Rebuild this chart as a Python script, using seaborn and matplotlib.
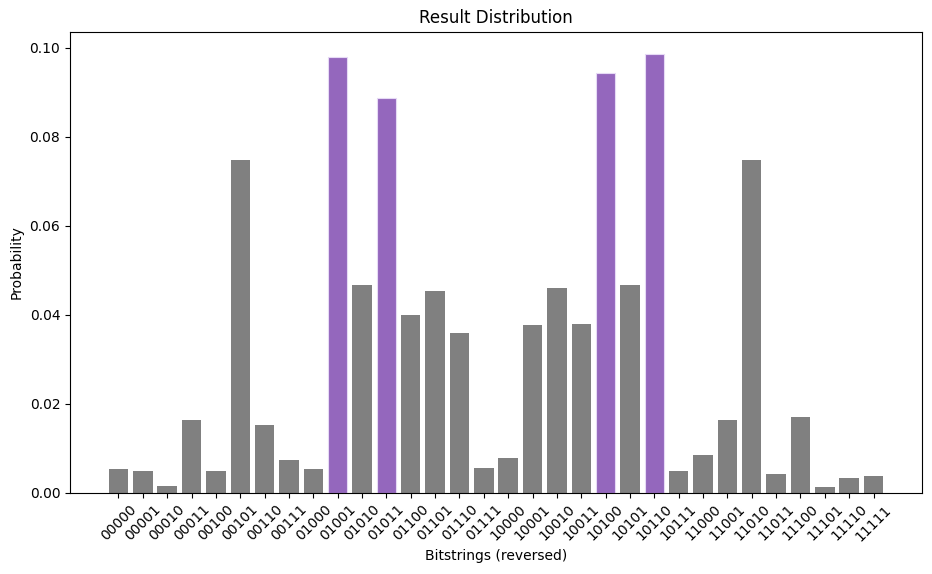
import matplotlib
matplotlib.use("Agg")
import matplotlib.pyplot as plt
import pandas as pd
import seaborn as sns

bitstrings = [format(i, "05b") for i in range(32)]
probabilities = [
    0.0053, 0.0049, 0.0015, 0.0163, 0.0049, 0.0748, 0.0152, 0.0073,
    0.0053, 0.0979, 0.0468, 0.0887, 0.0399, 0.0453, 0.0360, 0.0055,
    0.0078, 0.0377, 0.0460, 0.0379, 0.0943, 0.0468, 0.0987, 0.0049,
    0.0085, 0.0163, 0.0748, 0.0042, 0.0170, 0.0013, 0.0033, 0.0037,
]
highlighted = ["01001", "01011", "10100", "10110"]

df = pd.DataFrame({"bitstring": bitstrings, "probability": probabilities})
df["kind"] = ["solution" if b in highlighted else "other" for b in bitstrings]

plt.rcParams["font.family"] = ["DejaVu Sans"]

fig = plt.figure(figsize=(9.32, 5.74), dpi=100)
ax = fig.add_axes([70 / 932, 1 - 492.7 / 574, 852 / 932, 461 / 574])

sns.barplot(
    data=df, x="bitstring", y="probability", hue="kind", order=bitstrings,
    palette={"other": "#808080", "solution": "#9467bd"},
    dodge=False, saturation=1, width=0.8, legend=False, ax=ax,
)
# light outline on the highlighted bars, matched by bar position
for patch in ax.patches:
    idx = int(round(patch.get_x() + patch.get_width() / 2))
    if 0 <= idx < len(bitstrings) and bitstrings[idx] in highlighted:
        patch.set_edgecolor("#e6daf5")
        patch.set_linewidth(0.8)
    else:
        patch.set_linewidth(0)

n = len(bitstrings)
pad = 0.05 * (n - 1 + 0.8)
ax.set_xlim(-0.4 - pad, n - 1 + 0.4 + pad)
ax.set_ylim(0, max(probabilities) * 1.05)

ax.set_title("Result Distribution", fontsize=12)
ax.set_xlabel("Bitstrings (reversed)", fontsize=10)
ax.set_ylabel("Probability", fontsize=10)
ax.tick_params(axis="x", labelrotation=45, labelsize=10)
ax.tick_params(axis="y", labelsize=10)

fig.savefig("out.png", dpi=100)
